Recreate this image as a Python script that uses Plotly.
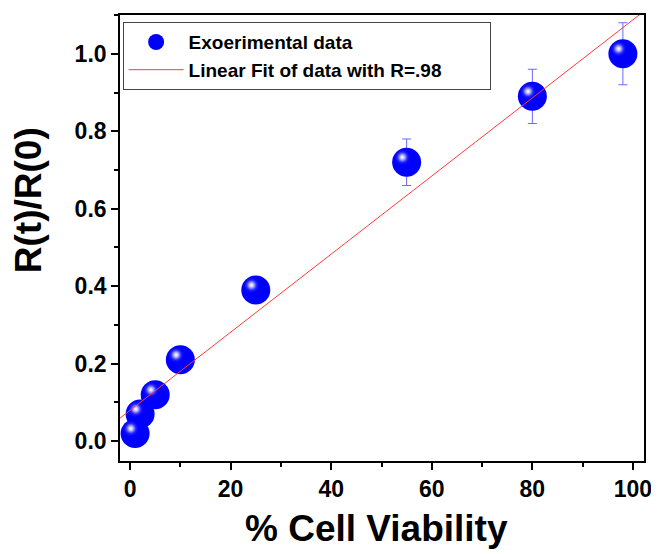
import numpy as np
import plotly.graph_objects as go

# ---- data ----
viability = [1, 2, 5, 10, 25, 55, 80, 98]
ratio = [0.02, 0.07, 0.12, 0.21, 0.39, 0.72, 0.89, 1.00]
ratio_err = [0.01, 0.01, 0.02, 0.02, 0.03, 0.06, 0.07, 0.08]
series_names = ["Exoerimental data", "Linear Fit of data with R=.98"]
x_title = "% Cell Viability"
y_title = "R(t)/R(0)"
x_ticks = [0, 20, 40, 60, 80, 100]
y_ticks = [0.0, 0.2, 0.4, 0.6, 0.8, 1.0]

# ---- layout constants (style) ----
XR = [-2.0, 102.2]
YR = [-0.051, 1.10]
# page body has an 8px margin, so the figure is drawn 8px smaller
W, H = 651, 546
ML, MR, MT, MB = 112, 15, 5, 93
pw = W - ML - MR
ph = H - MT - MB
# highlight offset (px) converted to axis units for the overlay axes
dx_px, dy_px = -4.3, -5.0
dx = -dx_px * (XR[1] - XR[0]) / pw
dy = dy_px * (YR[1] - YR[0]) / ph

slope, intercept = np.polyfit(viability, ratio, 1)
fit_x = np.array(XR)
fit_y = slope * fit_x + intercept

FONT = "Liberation Sans, Arial, sans-serif"

fig = go.Figure()
fig.add_trace(go.Scatter(
    x=viability, y=ratio, mode="markers", name=series_names[0],
    marker=dict(size=29, color="#0000ff", line=dict(width=0)),
    error_y=dict(type="data", array=ratio_err, visible=True,
                 color="#6a6aff", thickness=1, width=4.5),
    cliponaxis=False,
))
fig.add_trace(go.Scatter(
    x=viability, y=ratio, mode="markers", showlegend=False,
    xaxis="x2", yaxis="y2", hoverinfo="skip",
    marker=dict(size=17, color="rgba(0,0,255,0)", line=dict(width=0),
                gradient=dict(type="radial", color="#ffffff")),
    cliponaxis=False,
))
fig.add_trace(go.Scatter(
    x=viability, y=ratio, mode="markers", showlegend=False,
    xaxis="x2", yaxis="y2", hoverinfo="skip",
    marker=dict(size=10, color="rgba(160,160,255,0)", line=dict(width=0),
                gradient=dict(type="radial", color="#ffffff")),
    cliponaxis=False,
))
fig.add_trace(go.Scatter(
    x=fit_x, y=fit_y, mode="lines",
    name=series_names[1] + "\u00a0" * 8,
    xaxis="x3", yaxis="y3",
    line=dict(color="#ff3b3b", width=1),
))

axis_common = dict(
    showgrid=False, zeroline=False, showline=True, linecolor="black",
    linewidth=1.6, mirror=True, ticks="outside", ticklen=7, tickwidth=1.5,
    tickcolor="black",
    tickfont=dict(family=FONT, size=23, color="black", weight="bold"),
)

fig.update_layout(
    width=W, height=H,
    margin=dict(l=ML, r=MR, t=MT, b=MB),
    paper_bgcolor="white", plot_bgcolor="white",
    xaxis=dict(range=XR, tickvals=x_ticks, ticktext=[str(v) for v in x_ticks],
               minor=dict(ticks="outside", ticklen=4, tickwidth=1.5,
                          tickcolor="black", dtick=10, tick0=0),
               **axis_common),
    yaxis=dict(range=YR, tickvals=y_ticks, ticktext=[f"{v:.1f}" for v in y_ticks],
               minor=dict(ticks="outside", ticklen=4, tickwidth=1.5,
                          tickcolor="black", dtick=0.1, tick0=0),
               **axis_common),
    xaxis2=dict(range=[XR[0] + dx, XR[1] + dx], overlaying="x", visible=False),
    yaxis2=dict(range=[YR[0] + dy, YR[1] + dy], overlaying="y", visible=False),
    xaxis3=dict(range=XR, overlaying="x", visible=False),
    yaxis3=dict(range=YR, overlaying="y", visible=False),
    legend=dict(x=0.005, y=0.984, xanchor="left", yanchor="top",
                bgcolor="white", bordercolor="#444444", borderwidth=1,
                itemwidth=55,
                font=dict(family=FONT, size=19, color="black", weight="bold")),
    showlegend=True,
    annotations=[
        dict(text=y_title, xref="paper", yref="paper",
             x=(20 - ML) / pw, y=1 - (191 - MT) / ph,
             xanchor="center", yanchor="middle", textangle=-90, showarrow=False,
             font=dict(family=FONT, size=37, color="black", weight="bold")),
        dict(text=x_title, xref="paper", yref="paper",
             x=(368 - ML) / pw, y=-(521 - (H - MB)) / ph,
             xanchor="center", yanchor="middle", showarrow=False,
             font=dict(family=FONT, size=37, color="black", weight="bold")),
    ],
)

fig.write_html("out.html")
